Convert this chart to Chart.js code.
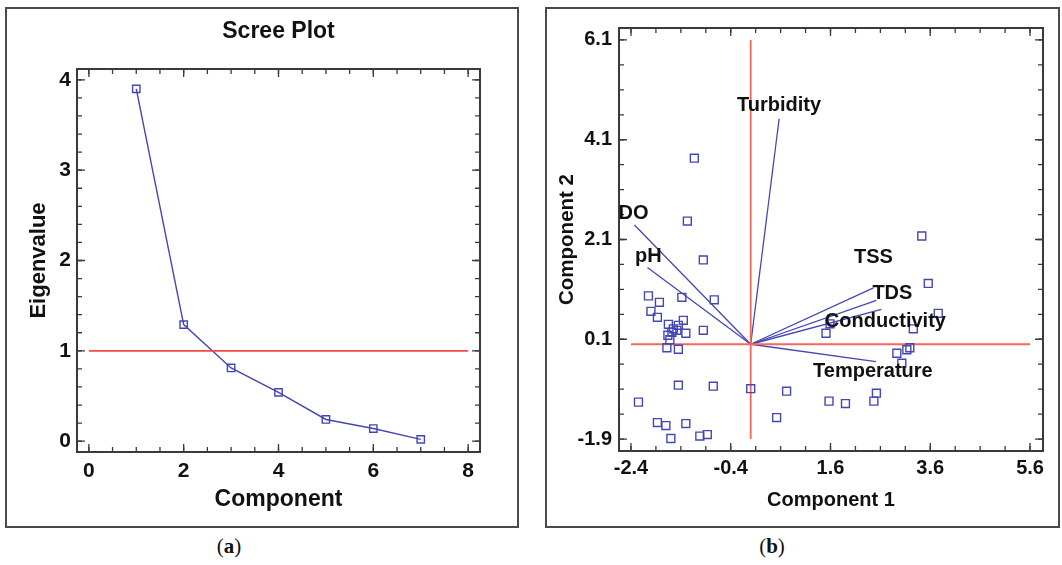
<!DOCTYPE html>
<html>
<head>
<meta charset="utf-8">
<script src="https://cdn.jsdelivr.net/npm/chart.js@4.4.1/dist/chart.umd.min.js"></script>
<style>
  body { margin: 0; background: #fff; width: 1062px; height: 565px; position: relative; overflow: hidden; }
  .panel { position: absolute; top: 7px; height: 521px; border: 2px solid #4a4a4a; box-sizing: border-box; background: #fff; }
  #panel-a { left: 5px; width: 514px; }
  #panel-b { left: 545px; width: 515px; }
  .panel canvas { display: block; }
  .cap { position: absolute; top: 534px; font-family: 'Liberation Serif', 'DejaVu Serif', serif; font-size: 21px; color: #111; transform: translateX(-50%); }
  .cap b { font-weight: 700; }
</style>
</head>
<body>
<div class="panel" id="panel-a"><canvas id="scree" width="510" height="517"></canvas></div>
<div class="panel" id="panel-b"><canvas id="biplot" width="511" height="517"></canvas></div>
<div class="cap" style="left:229px;">(<b>a</b>)</div>
<div class="cap" style="left:772px;">(<b>b</b>)</div>

<script>
/* ============================================================
   PCA — SCREE PLOT + BIPLOT
   ============================================================ */

// ── DATA ─────────────────────────────────────────────────────

const components  = [1, 2, 3, 4, 5, 6, 7];
const eigenvalues = [3.90, 1.29, 0.81, 0.54, 0.24, 0.14, 0.02];
const eigenCutoff = 1;
const screeXTicks = [0, 2, 4, 6, 8];
const screeYTicks = [0, 1, 2, 3, 4];

const variables = ['Turbidity', 'DO', 'pH', 'TSS', 'TDS', 'Conductivity', 'Temperature'];
const loadX     = [0.57, -2.33, -2.07, 2.46, 2.52, 2.62, 2.51];
const loadY     = [4.52,  2.39,  1.54, 1.13, 0.88, 0.70, -0.35];

const scoreX = [
  -1.13, -1.27, -0.95,
  -2.05, -1.38, -0.73, -1.83, -2.00, -1.87, -1.65, -1.35, -1.45, -1.55, -1.48, -1.58, -1.30, -0.95, -1.66, -1.62, -1.68, -1.45,
  -2.25, -1.45, -0.75, 0.00, 0.72, -1.87, -1.70, -1.30, -1.60, -1.02, -0.87, 0.52, 1.57, 1.90, 2.47, 2.52,
  1.51, 1.59, 3.76, 3.26, 2.93, 3.13, 3.19, 3.03, 3.43, 3.56,
];
const scoreY = [
  3.73, 2.47, 1.69,
  0.97, 0.94, 0.89, 0.84, 0.66, 0.54, 0.40, 0.48, 0.38, 0.31, 0.28, 0.24, 0.22, 0.28, 0.18, 0.09, -0.07, -0.10,
  -1.16, -0.82, -0.84, -0.89, -0.94, -1.57, -1.63, -1.59, -1.89, -1.84, -1.81, -1.47, -1.14, -1.19, -1.14, -0.98,
  0.22, 0.41, 0.62, 0.31, -0.18, -0.11, -0.07, -0.38, 2.17, 1.22,
];
const biplotXTicks = [-2.4, -0.4, 1.6, 3.6, 5.6];
const biplotYTicks = [-1.9, 0.1, 2.1, 4.1, 6.1];

// ── STYLE ────────────────────────────────────────────────────

const BLUE = '#4347b4';
const INK  = '#111';
const FONT = "'Liberation Sans', Arial, sans-serif";

// label offsets (px) from the tip of each loading vector
const labelOffset = {
  Turbidity: [0, -13], DO: [-1, -12], pH: [1, -11], TSS: [0, -30],
  TDS: [16, -7], Conductivity: [4, 12], Temperature: [-3, 10],
};

function steps(from, to, step) {
  const out = [];
  for (let v = from; v <= to + 1e-9; v += step) out.push(+v.toFixed(4));
  return out;
}

// box + inward ticks on all four sides, placed through the chart scales
const frameTicks = {
  id: 'frameTicks',
  afterDraw(chart, args, opts) {
    const { ctx, chartArea: a, scales: { x, y } } = chart;
    ctx.save();
    ctx.strokeStyle = '#3a3a3a';
    ctx.lineWidth = 1.3;
    const tick = (vals, horiz, len) => vals.forEach(v => {
      ctx.beginPath();
      if (horiz) {
        const p = x.getPixelForValue(v);
        ctx.moveTo(p, a.bottom); ctx.lineTo(p, a.bottom - len);
        ctx.moveTo(p, a.top);    ctx.lineTo(p, a.top + len);
      } else {
        const p = y.getPixelForValue(v);
        ctx.moveTo(a.left, p);  ctx.lineTo(a.left + len, p);
        ctx.moveTo(a.right, p); ctx.lineTo(a.right - len, p);
      }
      ctx.stroke();
    });
    tick(opts.xMinor, true, 5);
    tick(opts.yMinor, false, 5);
    tick(opts.xMajor, true, 8);
    tick(opts.yMajor, false, 8);
    ctx.lineWidth = 2;
    ctx.strokeRect(a.left, a.top, a.right - a.left, a.bottom - a.top);
    ctx.restore();
  },
};

// variable names at the tips of the loading vectors
const vectorLabels = {
  id: 'vectorLabels',
  afterDraw(chart) {
    if (chart.canvas.id !== 'biplot') return;
    const { ctx, scales: { x, y } } = chart;
    ctx.save();
    ctx.font = `bold 20px ${FONT}`;
    ctx.fillStyle = INK;
    ctx.textAlign = 'center';
    ctx.textBaseline = 'middle';
    variables.forEach((name, i) => {
      const [dx, dy] = labelOffset[name];
      ctx.fillText(name, x.getPixelForValue(loadX[i]) + dx, y.getPixelForValue(loadY[i]) + dy);
    });
    ctx.restore();
  },
};

function fixedTicks(values) {
  return (scale) => { scale.ticks = values.map(v => ({ value: v })); };
}

function axis(cfg) {
  return {
    type: 'linear',
    min: cfg.min, max: cfg.max,
    afterBuildTicks: fixedTicks(cfg.ticks),
    afterFit: (s) => { if (cfg.width) s.width = cfg.width; if (cfg.height) s.height = cfg.height; },
    grid: { display: false, drawTicks: false },
    border: { display: false },
    ticks: {
      color: INK, padding: cfg.pad, autoSkip: false, maxRotation: 0,
      font: { family: FONT, size: cfg.tickSize || 19, weight: 'bold' },
      callback: (v) => cfg.fmt ? v.toFixed(1) : String(v),
    },
    title: {
      display: true, text: cfg.title, color: INK, padding: cfg.titlePad,
      font: { family: FONT, size: cfg.titleSize, weight: 'bold' },
    },
  };
}

// ── SCREE PLOT ───────────────────────────────────────────────

function renderScree() {
  new Chart(document.getElementById('scree'), {
    type: 'scatter',
    data: {
      datasets: [
        {
          data: [{ x: 0, y: eigenCutoff }, { x: 8, y: eigenCutoff }],
          showLine: true, borderColor: '#ee4b48', borderWidth: 1.6, pointRadius: 0,
        },
        {
          data: components.map((c, i) => ({ x: c, y: eigenvalues[i] })),
          showLine: true, borderColor: BLUE, borderWidth: 1.4,
          pointStyle: 'rect', pointRadius: 5.2, pointBorderWidth: 1.4,
          pointBorderColor: BLUE, pointBackgroundColor: 'rgba(0,0,0,0)',
        },
      ],
    },
    options: {
      responsive: false, animation: false,
      layout: { padding: { left: 0, right: 37, top: 0, bottom: 0 } },
      plugins: {
        legend: { display: false }, tooltip: { enabled: false },
        title: {
          display: true, text: 'Scree Plot', color: INK, fullSize: false,
          font: { family: FONT, size: 23, weight: 'bold' },
          padding: { top: 9, bottom: 23.4 },
        },
        frameTicks: {
          xMajor: screeXTicks, yMajor: screeYTicks,
          xMinor: steps(0, 8, 0.5), yMinor: steps(0, 4, 0.2),
        },
      },
      scales: {
        x: axis({ min: -0.25, max: 8.25, ticks: screeXTicks, height: 74, pad: 7, tickSize: 21,
                  title: 'Component', titleSize: 23, titlePad: { top: 0, bottom: 13 } }),
        y: axis({ min: -0.12, max: 4.12, ticks: screeYTicks, width: 70, pad: 6, tickSize: 21,
                  title: 'Eigenvalue', titleSize: 22, titlePad: { top: 19, bottom: 0 } }),
      },
    },
    plugins: [frameTicks],
  });
}

// ── BIPLOT ───────────────────────────────────────────────────

function renderBiplot() {
  const vectors = variables.map((name, i) => ({
    data: [{ x: 0, y: 0 }, { x: loadX[i], y: loadY[i] }],
    showLine: true, borderColor: BLUE, borderWidth: 1.3, pointRadius: 0,
  }));

  new Chart(document.getElementById('biplot'), {
    type: 'scatter',
    data: {
      datasets: [
        {
          data: scoreX.map((v, i) => ({ x: v, y: scoreY[i] })),
          pointStyle: 'rect', pointRadius: 5.6, pointBorderWidth: 1.4,
          pointBorderColor: BLUE, pointBackgroundColor: 'rgba(0,0,0,0)',
        },
        {
          data: [{ x: 0, y: biplotYTicks[0] }, { x: 0, y: biplotYTicks[biplotYTicks.length - 1] }],
          showLine: true, borderColor: '#f3675c', borderWidth: 1.8, pointRadius: 0,
        },
        {
          data: [{ x: biplotXTicks[0], y: 0 }, { x: biplotXTicks[biplotXTicks.length - 1], y: 0 }],
          showLine: true, borderColor: '#f3675c', borderWidth: 1.8, pointRadius: 0,
        },
        ...vectors,
      ],
    },
    options: {
      responsive: false, animation: false,
      layout: { padding: { left: 0, right: 15, top: 17, bottom: 0 } },
      plugins: {
        legend: { display: false }, tooltip: { enabled: false },
        frameTicks: {
          xMajor: biplotXTicks, yMajor: biplotYTicks,
          xMinor: steps(-2.4, 5.6, 0.5), yMinor: steps(-1.9, 6.1, 0.5),
        },
      },
      scales: {
        x: axis({ min: -2.64, max: 5.86, ticks: biplotXTicks, height: 75, pad: 5, fmt: true, tickSize: 20,
                  title: 'Component 1', titleSize: 20, titlePad: { top: 0, bottom: 14 } }),
        y: axis({ min: -2.14, max: 6.34, ticks: biplotYTicks, width: 72, pad: 7, fmt: true, tickSize: 20,
                  title: 'Component 2', titleSize: 20.5, titlePad: { top: 8, bottom: 0 } }),
      },
    },
    plugins: [frameTicks, vectorLabels],
  });
}

document.addEventListener('DOMContentLoaded', () => {
  renderScree();
  renderBiplot();
});
</script>
</body>
</html>
